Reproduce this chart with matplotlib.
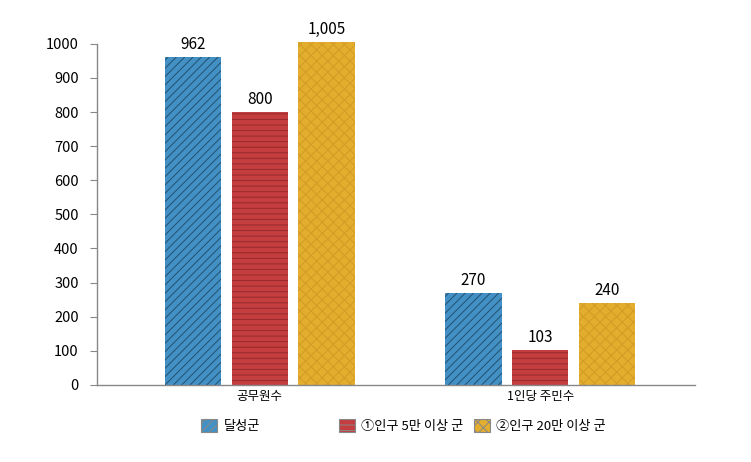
import matplotlib
matplotlib.use('Agg')
import matplotlib.pyplot as plt
import numpy as np

plt.rcParams['font.family'] = ['Noto Sans CJK KR', 'DejaVu Sans']
plt.rcParams['hatch.linewidth'] = 0.7

# 데이터
categories = ['공무원수', '1인당 주민수']
series_names = ['달성군', '①인구 5만 이상 군', '②인구 20만 이상 군']
dalseong = [962, 270]
pop5 = [800, 103]
pop20 = [1005, 240]
value_labels = [['962', '270'], ['800', '103'], ['1,005', '240']]

colors = ['#4391c4', '#c43d3f', '#e3ad2e']
hatch_colors = ['#23506f', '#962a2c', '#d09c25']
hatches = ['////', '---', 'xxx']

fig = plt.figure(figsize=(7.51, 4.62), dpi=100)
ax = fig.add_axes([0.129, 0.167, 0.796, 0.738])

x = np.arange(len(categories))
w = 0.2
step = 0.238
handles = []
for i, (vals, name) in enumerate(zip([dalseong, pop5, pop20], series_names)):
    pos = x + (i - 1) * step
    bars = ax.bar(pos, vals, width=w, color=colors[i], edgecolor=hatch_colors[i],
                  hatch=hatches[i], linewidth=0, label=name, clip_on=False)
    handles.append(bars)
    for b, lab in zip(bars, value_labels[i]):
        ax.text(b.get_x() + b.get_width() / 2, b.get_height() + 12, lab,
                ha='center', va='bottom', fontsize=11, color='black')

ax.set_xlim(-0.58, 1.55)
ax.set_ylim(0, 1000)
ax.set_yticks(range(0, 1001, 100))
ax.set_xticks(x)
ax.set_xticklabels(categories, fontsize=9)
ax.tick_params(axis='x', length=0, pad=4)
ax.tick_params(axis='y', labelsize=10.5, length=5, color='#888888', pad=8)

for s in ['top', 'right']:
    ax.spines[s].set_visible(False)
for s in ['left', 'bottom']:
    ax.spines[s].set_color('#888888')
    ax.spines[s].set_linewidth(1)

# 범례 (항목별 위치 지정)
leg_x = [0.268, 0.451, 0.631]
for h, name, lx in zip(handles, series_names, leg_x):
    leg = fig.legend([h], [name], loc='center left', bbox_to_anchor=(lx, 0.078),
                     frameon=False, fontsize=9.5, handlelength=1.2, handleheight=1.1,
                     handletextpad=0.5, borderaxespad=0, borderpad=0)
    for p in leg.get_patches():
        p.set_edgecolor('#888888')
        p.set_linewidth(0.8)

fig.savefig('out.png', dpi=100)
